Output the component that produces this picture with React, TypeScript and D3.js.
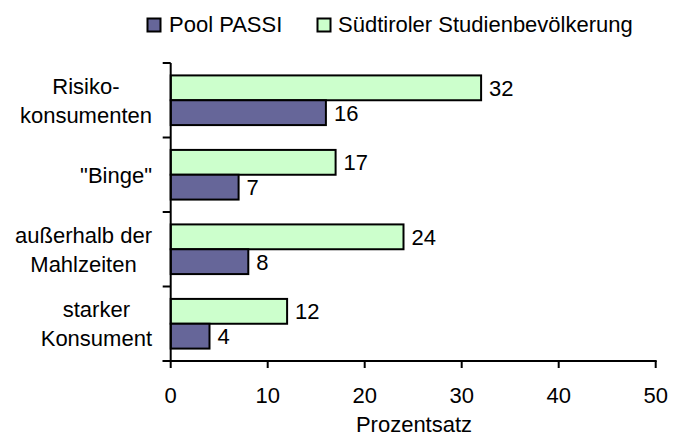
import React, { useEffect, useRef } from 'react';
import * as d3 from 'd3';

// chart data
const categories = ['Risiko-\nkonsumenten', '"Binge"', 'außerhalb der\nMahlzeiten', 'starker\nKonsument'];
const seriesNames = ['Südtiroler Studienbevölkerung', 'Pool PASSI'];
const suedtirolValues = [32, 17, 24, 12];
const passiValues = [16, 7, 8, 4];
const xTicks = [0, 10, 20, 30, 40, 50];
const axisTitle = 'Prozentsatz';

const colors: Record<string, string> = {
  'Pool PASSI': '#666699',
  'Südtiroler Studienbevölkerung': '#CCFFCC',
};

const FONT = '"Liberation Sans", Arial, sans-serif';

export default function App() {
  const chartRef = useRef<SVGSVGElement | null>(null);

  useEffect(() => {
    const svg = d3.select(chartRef.current);
    svg.selectAll('*').remove();

    const left = 170.7;
    const right = 655.7;
    const top = 63;
    const bottom = 361;

    const x = d3.scaleLinear().domain([0, 50]).range([left, right]);
    const y0 = d3.scaleBand<string>().domain(categories).range([top, bottom]).paddingInner(0);
    const bw = y0.bandwidth();
    const y1 = d3.scaleBand<string>().domain(seriesNames).range([bw / 6, (bw * 5) / 6]);

    const rows = categories.map((c, i) => ({
      cat: c,
      values: [
        { name: seriesNames[0], v: suedtirolValues[i] },
        { name: seriesNames[1], v: passiValues[i] },
      ],
    }));

    const g = svg.append('g').style('font-family', FONT).style('font-size', '22px');

    // bars
    const groups = g.selectAll('g.cat')
      .data(rows)
      .enter()
      .append('g')
      .attr('transform', (d) => `translate(0,${y0(d.cat)})`);

    groups.selectAll('rect')
      .data((d) => d.values)
      .enter()
      .append('rect')
      .attr('x', x(0))
      .attr('y', (d) => y1(d.name)!)
      .attr('width', (d) => x(d.v) - x(0))
      .attr('height', y1.bandwidth())
      .attr('fill', (d) => colors[d.name])
      .attr('stroke', '#000')
      .attr('stroke-width', 2);

    groups.selectAll('text.val')
      .data((d) => d.values)
      .enter()
      .append('text')
      .attr('x', (d) => x(d.v) + 8)
      .attr('y', (d) => y1(d.name)! + y1.bandwidth() / 2 + 8)
      .attr('fill', '#000')
      .text((d) => d.v);

    // y axis
    g.append('line')
      .attr('x1', x(0)).attr('x2', x(0))
      .attr('y1', top).attr('y2', bottom)
      .attr('stroke', '#000').attr('stroke-width', 2);
    const yTickPos = categories.map((c) => y0(c)!).concat([bottom]);
    g.selectAll('line.ytick')
      .data(yTickPos)
      .enter()
      .append('line')
      .attr('x1', x(0) - 8).attr('x2', x(0))
      .attr('y1', (d) => d).attr('y2', (d) => d)
      .attr('stroke', '#000').attr('stroke-width', 2);

    // x axis
    g.append('line')
      .attr('x1', x(0) - 8).attr('x2', x(50) + 1)
      .attr('y1', bottom).attr('y2', bottom)
      .attr('stroke', '#000').attr('stroke-width', 2);
    g.selectAll('line.xtick')
      .data(xTicks)
      .enter()
      .append('line')
      .attr('x1', (d) => x(d)).attr('x2', (d) => x(d))
      .attr('y1', bottom).attr('y2', bottom + 7)
      .attr('stroke', '#000').attr('stroke-width', 2);
    g.selectAll('text.xlab')
      .data(xTicks)
      .enter()
      .append('text')
      .attr('x', (d) => x(d))
      .attr('y', 402.5)
      .attr('text-anchor', 'middle')
      .text((d) => d);

    g.append('text')
      .attr('x', 414)
      .attr('y', 432)
      .attr('text-anchor', 'middle')
      .text(axisTitle);

    // category labels: centered block, right-aligned at 152
    const lineGap = 29;
    categories.forEach((c) => {
      const lines = c.split('\n');
      const cy = y0(c)! + bw / 2;
      const t = g.append('text').attr('text-anchor', 'middle');
      const spans = lines.map((ln, i) =>
        t.append('tspan')
          .attr('y', cy + 8 + (i - (lines.length - 1) / 2) * lineGap)
          .text(ln)
      );
      let maxW = 0;
      spans.forEach((s) => {
        const n = s.node() as SVGTSpanElement;
        maxW = Math.max(maxW, n.getComputedTextLength());
      });
      const cx = 152 - maxW / 2;
      spans.forEach((s) => s.attr('x', cx));
    });

    // legend
    const legendItems = [
      { name: 'Pool PASSI', sx: 147.5, tx: 169 },
      { name: 'Südtiroler Studienbevölkerung', sx: 317.5, tx: 338 },
    ];
    const lg = g.selectAll('g.leg').data(legendItems).enter().append('g');
    lg.append('rect')
      .attr('x', (d) => d.sx)
      .attr('y', 18.5)
      .attr('width', 13)
      .attr('height', 13)
      .attr('fill', (d) => colors[d.name])
      .attr('stroke', '#000')
      .attr('stroke-width', 2);
    lg.append('text')
      .attr('x', (d) => d.tx)
      .attr('y', 32)
      .text((d) => d.name);

    return () => {
      svg.selectAll('*').remove();
    };
  }, []);

  return (
    <svg
      ref={chartRef}
      width={677}
      height={437}
      style={{ position: 'absolute', left: 0, top: 0, background: '#fff' }}
    />
  );
}
